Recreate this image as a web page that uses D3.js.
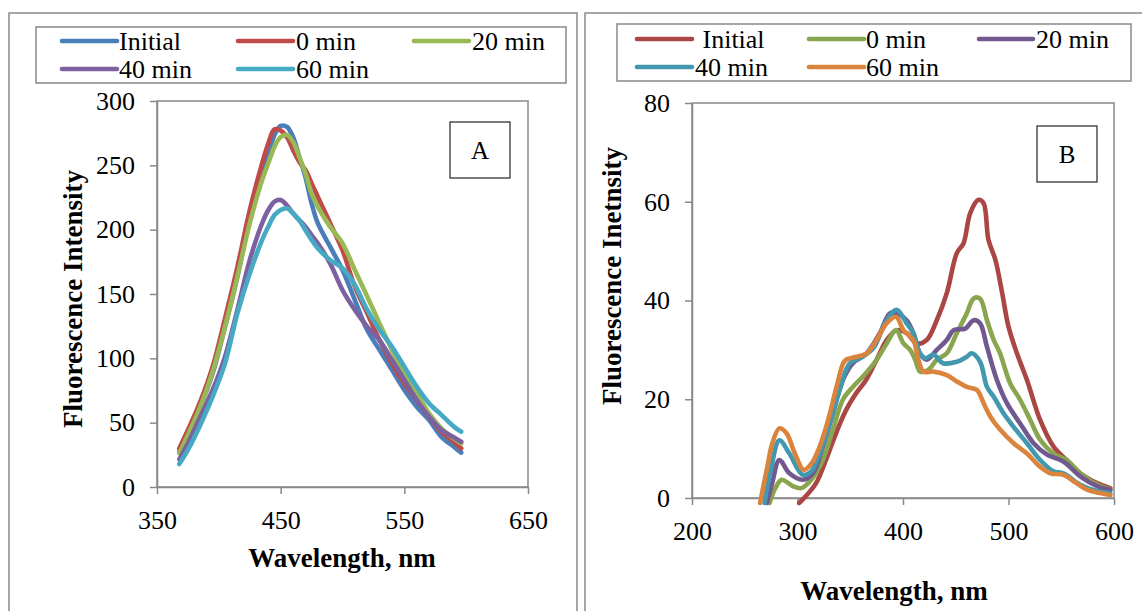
<!DOCTYPE html>
<html><head><meta charset="utf-8">
<script src="https://cdn.jsdelivr.net/npm/d3@7"></script>
<style>
body{margin:0;background:#fff}
svg{display:block}
text{font-family:"Liberation Serif","Times New Roman",serif;fill:#000}
</style>
</head><body>
<svg id="c" width="1142" height="611"></svg>
<script>
// ---------- Panel A data ----------
const waveA = [368,375,385,395,405,415,425,435,440,445,450,455,460,465,470,475,480,490,500,510,520,530,540,550,560,570,580,590,596];
const aInitial = [27.4,42,62.4,88.3,124.6,163.5,210,243.8,259,273.6,280.6,280,272,256.7,241,220.5,205,186.8,168.6,145.3,122,106.5,91,75.4,62.4,52,39,31.3,26.7];
const a0min   = [30,44.3,66.3,93.5,131,171,215,251.6,267,278,277,272,262,252.8,246.4,236,225.6,205,184,155.7,135,114,96,80.6,67.6,54.7,43,35.2,30];
const a20min  = [26.2,40.4,62.4,89.6,124.6,163.5,205,238.6,251.6,264.5,272,273.6,268.4,256.7,243.8,228.2,217.9,202.3,189.4,168.6,148,127,106.5,88.3,72.8,57.3,45.6,37.8,34];
const a40min  = [21.5,34,54.7,75.4,101.3,137.6,176.4,205,215.3,221.8,223,219,212.7,207.5,202.3,195.8,189.4,173.8,153,137.6,124.6,114,98.7,83.2,67.6,54.7,44.3,38.6,35.2];
const a60min  = [17.9,28.8,48.2,70.2,96.1,135,166,192,202.3,211.4,215.3,216.6,212.7,207.5,199.7,192,185.5,176.4,170,157,137.6,122,109,93.5,78,65,56,46.9,43];
const labelsA = ["Initial","0 min","20 min","40 min","60 min"];
const colorsA = ["#4A7EBB","#BE4B48","#98B954","#7D60A0","#46AAC5"];
const xTicksA = [350,450,550,650];
const yTicksA = [0,50,100,150,200,250,300];

// ---------- Panel B data ([wavelength, intensity]) ----------
const bInitial = [[301.7,-1],[308,0.4],[317.6,3],[327,7.7],[336.5,13.1],[346,17.8],[355.6,21.2],[365,23.9],[375,28],[384.5,32],[394,34],[403.4,33.4],[413,31.3],[422.5,32],[432,36],[441.5,41.5],[451,49.6],[457.4,51.6],[463.7,57.7],[471.6,60.4],[476.4,59.7],[481,52.3],[487.6,48.2],[494,41.5],[500,34.7],[508,29.3],[517.5,23.9],[530,15.8],[542.7,10.4],[555,7.7],[568,5],[584,3],[596.5,2]];
const b0min = [[273.5,-1],[279,2],[285,3.7],[295.5,2.4],[303.5,2.0],[313,3.7],[324,7.7],[333.5,13.8],[343,19.9],[352.5,22.5],[362,24.6],[375,28],[384.5,31.3],[393.4,34],[400.4,31.3],[406.8,30],[411.6,28],[416.3,25.6],[424.3,26],[432,28],[441.5,29.3],[451,33.4],[460.5,37.4],[467,40.4],[473,40.4],[479.6,36],[486,32],[492,29.3],[501.6,23.2],[511,19.9],[520.6,15.8],[530,11.8],[542.7,9],[555,7.7],[568,5],[584,2.7],[596.5,1.7]];
const b20min = [[271,-1],[276,3],[282.8,7.7],[292.3,5],[305,3.7],[314.6,5],[324,10.4],[333.5,17.1],[343,23.9],[352.5,27.3],[365.5,29.3],[378,33.4],[387.5,37.4],[394,37.4],[403.4,36],[409.8,33.4],[416,29.3],[422.5,28],[432,30],[441.5,32],[448,34],[459,34.3],[467,36],[473,35.4],[479.6,30.6],[489,23.9],[498.5,19.2],[511,15.1],[523.8,11.1],[536.4,8.8],[552,7.4],[568,4.4],[584,2.4],[596.5,1.6]];
const b40min = [[268.8,-1],[275,6],[282.8,11.7],[292.3,9],[305,4.7],[313,5.4],[321,9],[330.5,15.1],[340,21.9],[349.5,27.3],[359,28.3],[371.7,30.3],[384.5,36],[394,38.1],[403.4,35.4],[409.8,33.4],[416,29.3],[421,28.3],[429,29],[438,27.3],[451,27.6],[460.5,28.6],[465,29.3],[473,27.6],[479.6,22.5],[486,20.5],[495.4,17.1],[504.8,14.4],[517.5,11.1],[530,7.7],[542.7,5.4],[552,5],[568,2.7],[584,1.4],[596.5,1]];
const b60min = [[264.5,-1],[271.4,6.3],[276,11],[282.8,14.1],[289.6,13.1],[297.5,9],[306,5.7],[313.3,7],[321,10.4],[329,15.8],[337,22.5],[343.4,27.3],[346.6,28.1],[356,28.6],[365.6,29.3],[375,32],[384.5,35.4],[393.4,36.7],[400.4,34],[409.8,32],[414.6,28],[419.4,25.6],[428.9,25.6],[441.5,24.9],[451,23.6],[460.5,22.5],[470,21.9],[476.4,19.2],[482.7,16.5],[492.2,13.8],[504.8,11.1],[517.5,9],[530.1,6.3],[539.6,5],[552.2,4.7],[561.7,3.4],[574.4,1.7],[587,1],[596.5,0.6]];
const labelsB = [" Initial","0 min","20 min","40 min","60 min"];
const colorsB = ["#AA4643","#89A54E","#71588F","#4198AF","#DB843D"];
const xTicksB = [200,300,400,500,600];
const yTicksB = [0,20,40,60,80];

const FONT = '"Liberation Serif","Times New Roman",serif';
const svg = d3.select("#c");
const GRAY = "#898989";

function panel(cfg){
  const g = svg.append("g");
  g.append("rect").attr("x",cfg.frame[0]).attr("y",cfg.frame[1]).attr("width",cfg.frame[2]).attr("height",700)
    .attr("fill","none").attr("stroke",GRAY).attr("stroke-width",1.5);
  const [L,T,R,B] = cfg.plot;
  const x = d3.scaleLinear().domain(cfg.xDomain).range([L,R]);
  const y = d3.scaleLinear().domain(cfg.yDomain).range([B,T]);
  g.append("rect").attr("x",L).attr("y",T).attr("width",R-L).attr("height",B-T)
    .attr("fill","none").attr("stroke",GRAY).attr("stroke-width",1.5);
  const ax = g.append("g").attr("transform",`translate(0,${B})`)
    .call(d3.axisBottom(x).tickValues(cfg.xTicks).tickSize(7).tickSizeOuter(0).tickPadding(17).tickFormat(d3.format("d")));
  const ay = g.append("g").attr("transform",`translate(${L},0)`)
    .call(d3.axisLeft(y).tickValues(cfg.yTicks).tickSize(7).tickSizeOuter(0).tickPadding(15).tickFormat(d3.format("d")));
  [ax,ay].forEach(a=>{
    a.attr("font-family",FONT);
    a.select(".domain").attr("stroke",GRAY).attr("stroke-width",1.5);
    a.selectAll(".tick line").attr("stroke",GRAY).attr("stroke-width",1.5);
    a.selectAll(".tick text").attr("fill","#000").style("font-size","26px").style("font-family",FONT);
  });
  const line = d3.line().x(d=>x(d[0])).y(d=>y(d[1])).curve(d3.curveCatmullRom.alpha(0.5));
  cfg.series.forEach((s,i)=>{
    g.append("path").datum(s).attr("d",line).attr("fill","none")
      .attr("stroke",cfg.colors[i]).attr("stroke-width",4.6)
      .attr("stroke-linejoin","round").attr("stroke-linecap","round");
  });
  const lb = cfg.letterBox;
  g.append("rect").attr("x",lb[0]).attr("y",lb[1]).attr("width",lb[2]).attr("height",lb[3])
    .attr("fill","#fff").attr("stroke","#333").attr("stroke-width",1.3);
  g.append("text").attr("x",lb[0]+lb[2]/2).attr("y",lb[1]+lb[3]/2).attr("dy","0.35em")
    .attr("text-anchor","middle").style("font-size","25px").style("font-family",FONT).text(cfg.letter);
  g.append("text").attr("x",cfg.xTitle[0]).attr("y",cfg.xTitle[1]).attr("text-anchor","middle")
    .style("font-size","27px").style("font-weight","bold").style("font-family",FONT).text("Wavelength, nm");
  g.append("text").attr("transform",`translate(${cfg.yTitle[0]},${cfg.yTitle[1]}) rotate(-90)`).attr("text-anchor","middle")
    .style("font-size","27px").style("font-weight","bold").style("font-family",FONT).text(cfg.yTitleText);
  const lg = cfg.legend;
  g.append("rect").attr("x",lg.box[0]).attr("y",lg.box[1]).attr("width",lg.box[2]).attr("height",lg.box[3])
    .attr("fill","#fff").attr("stroke",GRAY).attr("stroke-width",1.5);
  cfg.labels.forEach((lab,i)=>{
    const it = lg.items[i];
    g.append("line").attr("x1",it[0]).attr("x2",it[1]).attr("y1",it[3]).attr("y2",it[3])
      .attr("stroke",cfg.colors[i]).attr("stroke-width",4.6).attr("stroke-linecap","round");
    g.append("text").attr("x",it[2]).attr("y",it[3]).attr("dy","0.34em").style("font-size","26px")
      .style("font-family",FONT).style("white-space","pre").text(lab);
  });
}

panel({
  frame:[9,13,568],
  plot:[157,101,528,487],
  xDomain:[350,650], yDomain:[0,300],
  xTicks:xTicksA, yTicks:yTicksA,
  series:[aInitial,a0min,a20min,a40min,a60min].map(v=>v.map((d,i)=>[waveA[i],d])),
  colors:colorsA, labels:labelsA,
  letterBox:[450,122,60,56], letter:"A",
  xTitle:[342,567], yTitle:[82,299], yTitleText:"Fluorescence Intensity",
  legend:{box:[36,27,530,56], items:[[62,117,119,41],[238,293,296,41],[414,469,472,41],[62,117,119,69],[238,293,296,69]]}
});
panel({
  frame:[585,13,600],
  plot:[692,103,1114,498],
  xDomain:[200,600], yDomain:[0,80],
  xTicks:xTicksB, yTicks:yTicksB,
  series:[bInitial,b0min,b20min,b40min,b60min],
  colors:colorsB, labels:labelsB,
  letterBox:[1037,126,60,56], letter:"B",
  xTitle:[894,600], yTitle:[621,276], yTitleText:"Fluorescence Inetnsity",
  legend:{box:[617,24,514,57], items:[[637,692,696,39],[809,864,866,39],[979,1033,1036,39],[637,692,695,67],[809,864,866,67]]}
});
</script>
</body></html>
